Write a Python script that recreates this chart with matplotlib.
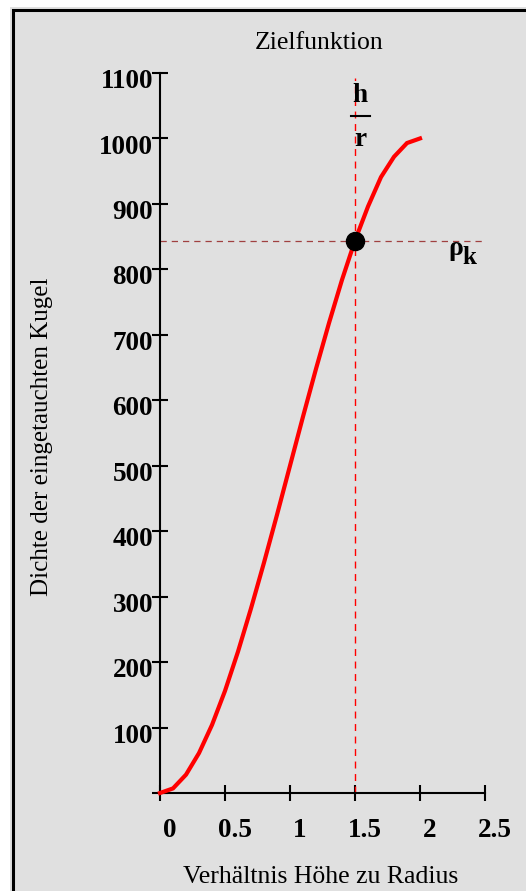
import numpy as np
import matplotlib
matplotlib.use('Agg')
import matplotlib.pyplot as plt
from matplotlib.patches import Rectangle
from matplotlib.lines import Line2D
import matplotlib.transforms as mtrans

# === DATOS ===
h_r = [0.0, 0.1, 0.2, 0.3, 0.4, 0.5, 0.6, 0.7, 0.8, 0.9, 1.0,
       1.1, 1.2, 1.3, 1.4, 1.5, 1.6, 1.7, 1.8, 1.9, 2.0]
dichte = [0, 7, 28, 61, 104, 156, 216, 282, 352, 425, 500,
          575, 648, 718, 784, 844, 896, 941, 972, 993, 1000]
h_r_k = 1.5      # gesuchtes h/r
rho_k = 844      # Dichte der Kugel
x_ticks = [0, 0.5, 1, 1.5, 2, 2.5]
x_ticklabels = ['0', '0.5', '1', '1.5', '2', '2.5']
y_ticks = [0, 100, 200, 300, 400, 500, 600, 700, 800, 900, 1000, 1100]
y_ticklabels = ['', '100', '200', '300', '400', '500', '600', '700', '800',
                '900', '1000', '1100']

W, H = 526, 891
plt.rcParams['font.family'] = ['Liberation Serif', 'DejaVu Serif']

fig = plt.figure(figsize=(W / 100, H / 100), dpi=100, facecolor='white')

# Hintergrund + Rahmen
fig.patches.append(Rectangle((10 / W, 0), 1, 1 - 7 / H, transform=fig.transFigure,
                             facecolor='#e0e0e0', edgecolor='none', zorder=-2))
fig.patches.append(Rectangle((13 / W, -0.1), 1.2, 1.1 - 10 / H, transform=fig.transFigure,
                             facecolor='#e0e0e0', edgecolor='black', linewidth=2.2, zorder=-1))

ax = fig.add_axes([160 / W, (H - 793) / H, (485 - 160) / W, (793 - 73) / H])
ax.set_facecolor('none')
ax.set_xlim(0, 2.5)
ax.set_ylim(0, 1100)
for s in ['top', 'right']:
    ax.spines[s].set_visible(False)
for s in ['left', 'bottom']:
    ax.spines[s].set_linewidth(1.5)

# Kurve
ax.plot(h_r, dichte, color='red', linewidth=3, solid_joinstyle='miter', zorder=3, clip_on=False)

# Hilfslinien
ax.plot([h_r_k, h_r_k], [0, 1092], color='red', linestyle=(0, (5, 4)), linewidth=1, zorder=2, clip_on=False)
ax.axhline(rho_k, color='#a04040', linestyle=(0, (5, 4)), linewidth=0.9, zorder=2)
ax.plot([h_r_k], [rho_k], 'o', color='black', markersize=13, zorder=4)

# Achsen
ax.set_xticks(x_ticks)
ax.set_xticklabels(x_ticklabels)
ax.set_yticks(y_ticks)
ax.set_yticklabels(y_ticklabels)
ax.tick_params(direction='inout', length=12, width=1.5, labelsize=19.5)
ax.tick_params(axis='x', pad=12)
ax.tick_params(axis='y', pad=-1)
for lbl in ax.get_xticklabels() + ax.get_yticklabels():
    lbl.set_fontweight('bold')
dx = mtrans.ScaledTranslation(7 / 72, 0, fig.dpi_scale_trans)
for lbl in ax.get_xticklabels():
    lbl.set_transform(lbl.get_transform() + dx)
dy = mtrans.ScaledTranslation(0, -4 / 72, fig.dpi_scale_trans)
for lbl in ax.get_yticklabels():
    lbl.set_transform(lbl.get_transform() + dy)

# Beschriftungen
fig.text(319 / W, 1 - 43 / H, 'Zielfunktion', ha='center', va='center', fontsize=18.5)
fig.text(321 / W, 1 - 877 / H, 'Verhältnis Höhe zu Radius', ha='center', va='center', fontsize=18.5)
fig.text(42 / W, 1 - 437 / H, 'Dichte der eingetauchten Kugel', ha='center', va='center',
         rotation=90, fontsize=18)

# h/r Bruch
ax.text(1.535, 1066, 'h', ha='center', va='center', fontsize=19.5, fontweight='bold')
ax.text(1.54, 999, 'r', ha='center', va='center', fontsize=19.5, fontweight='bold')
ax.add_line(Line2D([1.47, 1.615], [1035, 1035], color='black', linewidth=1.5, clip_on=False))

# rho_k
ax.text(2.215, 832, 'ρ', ha='left', va='center', fontsize=20, fontweight='bold')
ax.text(2.33, 818, 'k', ha='left', va='center', fontsize=18, fontweight='bold')

fig.savefig('out.png', dpi=100, facecolor='white')
